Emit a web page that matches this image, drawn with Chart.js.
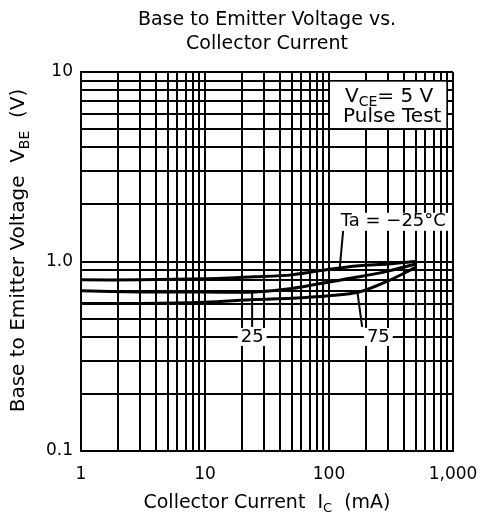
<!DOCTYPE html>
<html>
<head>
<meta charset="utf-8">
<script src="https://cdn.jsdelivr.net/npm/chart.js@4.4.1/dist/chart.umd.min.js"></script>
<style>
  html, body { margin: 0; padding: 0; background: #fff; }
</style>
</head>
<body>
<canvas id="chart" width="482" height="519"></canvas>
<script>
// collector current (mA) and base-emitter voltage (V)
const currentMA = [1, 3, 10, 25, 50, 100, 175, 300, 500]
const vbeMinus25 = [0.80, 0.80, 0.81, 0.83, 0.85, 0.91, 0.95, 0.97, 1.00]
const vbe25 = [0.70, 0.69, 0.69, 0.69, 0.72, 0.78, 0.83, 0.89, 0.97]
const vbe75 = [0.60, 0.60, 0.61, 0.63, 0.64, 0.66, 0.69, 0.79, 0.93]

const xGrid = [1, 2, 3, 4, 5, 6, 7, 8, 9, 10, 20, 30, 40, 50, 60, 70, 80, 90,
  100, 200, 300, 400, 500, 600, 700, 800, 900, 1000]
const xDecades = [1, 10, 100, 1000]
const xDecadeLabels = ['1', '10', '100', '1,000']
const yGrid = [0.1, 0.2, 0.3, 0.4, 0.5, 0.6, 0.7, 0.8, 0.9, 1, 2, 3, 4, 5, 6, 7, 8, 9, 10]
const yDecades = [0.1, 1, 10]
const yDecadeLabels = ['0.1', '1.0', '10']

// curve labels: [text, label x (mA), label y (V), leader start x (mA), arrow tip x, arrow tip y]
const curveLabels = [
  ['Ta = \u221225\u00b0C', 330, 1.62, 130, 122, 0.92],
  ['25', 24, 0.40, 24, 24, 0.69],
  ['75', 250, 0.40, 185, 170, 0.68],
]

const FONT = '"DejaVu Sans", sans-serif'

const toPoints = ys => ys.map((y, i) => ({ x: currentMA[i], y }))

const curve = (label, ys) => ({
  label,
  data: toPoints(ys),
  borderColor: '#000',
  borderWidth: 3,
  pointRadius: 0,
  tension: 0.3,
  fill: false,
})

const drawRich = (ctx, parts, x, y, size, align) => {
  const big = `${size}px ${FONT}`
  const small = `${Math.round(size * 0.7)}px ${FONT}`
  let w = 0
  parts.forEach(p => { ctx.font = p.sub ? small : big; w += ctx.measureText(p.t).width })
  let cx = align === 'left' ? x : x - w / 2
  ctx.textBaseline = 'middle'
  ctx.textAlign = 'left'
  parts.forEach(p => {
    ctx.font = p.sub ? small : big
    ctx.fillText(p.t, cx, p.sub ? y + size * 0.3 : y)
    cx += ctx.measureText(p.t).width
  })
  return w
}

const textPlugin = {
  id: 'texts',
  afterDraw (chart) {
    const { ctx, chartArea: a, scales: { x, y } } = chart
    ctx.save()
    ctx.fillStyle = '#000'
    const mid = (a.left + a.right) / 2

    // title
    drawRich(ctx, [{ t: 'Base to Emitter Voltage vs.' }], mid, 20, 19)
    drawRich(ctx, [{ t: 'Collector Current' }], mid, 44, 19)

    // axis titles
    drawRich(ctx, [{ t: 'Collector Current  I' }, { t: 'C', sub: true }, { t: '  (mA)' }], mid, 503, 19)
    ctx.save()
    ctx.translate(19, (a.top + a.bottom) / 2 - 11)
    ctx.rotate(-Math.PI / 2)
    drawRich(ctx, [{ t: 'Base to Emitter Voltage  V' }, { t: 'BE', sub: true }, { t: '  (V)' }], 0, 0, 20)
    ctx.restore()

    // conditions box
    const bx0 = x.getPixelForValue(100) + 1
    const bx1 = x.getPixelForValue(900) - 1
    const by0 = y.getPixelForValue(9) + 1
    const by1 = y.getPixelForValue(5) - 1
    ctx.fillStyle = '#fff'
    ctx.fillRect(bx0, by0, bx1 - bx0, by1 - by0)
    ctx.fillStyle = '#000'
    drawRich(ctx, [{ t: 'V' }, { t: 'CE', sub: true }, { t: '= 5 V' }], bx0 + 15, by0 + 15, 20, 'left')
    drawRich(ctx, [{ t: 'Pulse Test' }], bx0 + 13, by0 + 35, 20, 'left')

    // curve labels with leaders
    curveLabels.forEach(([text, lx, ly, sx, tx, ty]) => {
      const px = x.getPixelForValue(lx)
      const py = y.getPixelForValue(ly)
      ctx.font = `18px ${FONT}`
      const w = ctx.measureText(text).width
      ctx.fillStyle = '#fff'
      ctx.fillRect(px - w / 2 - 3, py - 9, w + 6, 18)
      ctx.fillStyle = '#000'
      drawRich(ctx, [{ t: text }], px, py, 18)
      const qx = x.getPixelForValue(tx)
      const qy = y.getPixelForValue(ty)
      const sy = ty > ly ? py - 10 : py + 9
      ctx.beginPath()
      ctx.moveTo(x.getPixelForValue(sx), sy)
      ctx.lineTo(qx, qy)
      ctx.lineWidth = 2
      ctx.strokeStyle = '#000'
      ctx.stroke()
    })
    ctx.restore()
  },
}

new Chart(document.getElementById('chart'), {
  type: 'line',
  data: {
    datasets: [
      curve('Ta = -25 C', vbeMinus25),
      curve('Ta = 25 C', vbe25),
      curve('Ta = 75 C', vbe75),
    ],
  },
  options: {
    responsive: false,
    animation: false,
    layout: { padding: { top: 72, right: 29, bottom: 0, left: 0 } },
    plugins: { legend: { display: false }, tooltip: { enabled: false }, title: { display: false } },
    scales: {
      x: {
        type: 'logarithmic',
        min: 1,
        max: 1000,
        afterBuildTicks: s => { s.ticks = xGrid.map(v => ({ value: v })) },
        afterFit: s => { s.height = 68; s.paddingLeft = 0; s.paddingRight = 0 },
        ticks: {
          autoSkip: false,
          maxRotation: 0,
          padding: 13,
          color: '#000',
          font: { family: FONT, size: 17 },
          callback: v => { const i = xDecades.indexOf(v); return i < 0 ? '' : xDecadeLabels[i] },
        },
        grid: { color: '#000', lineWidth: 2, drawTicks: false },
        border: { color: '#000', width: 2 },
      },
      y: {
        type: 'logarithmic',
        min: 0.1,
        max: 10,
        afterBuildTicks: s => { s.ticks = yGrid.map(v => ({ value: v })) },
        afterFit: s => { s.width = 81; s.paddingTop = 0; s.paddingBottom = 0 },
        ticks: {
          autoSkip: false,
          padding: 8,
          color: '#000',
          font: { family: FONT, size: 17 },
          callback: v => { const i = yDecades.indexOf(v); return i < 0 ? '' : yDecadeLabels[i] },
        },
        grid: { color: '#000', lineWidth: 2, drawTicks: false },
        border: { color: '#000', width: 2 },
      },
    },
  },
  plugins: [textPlugin],
})
</script>
</body>
</html>
